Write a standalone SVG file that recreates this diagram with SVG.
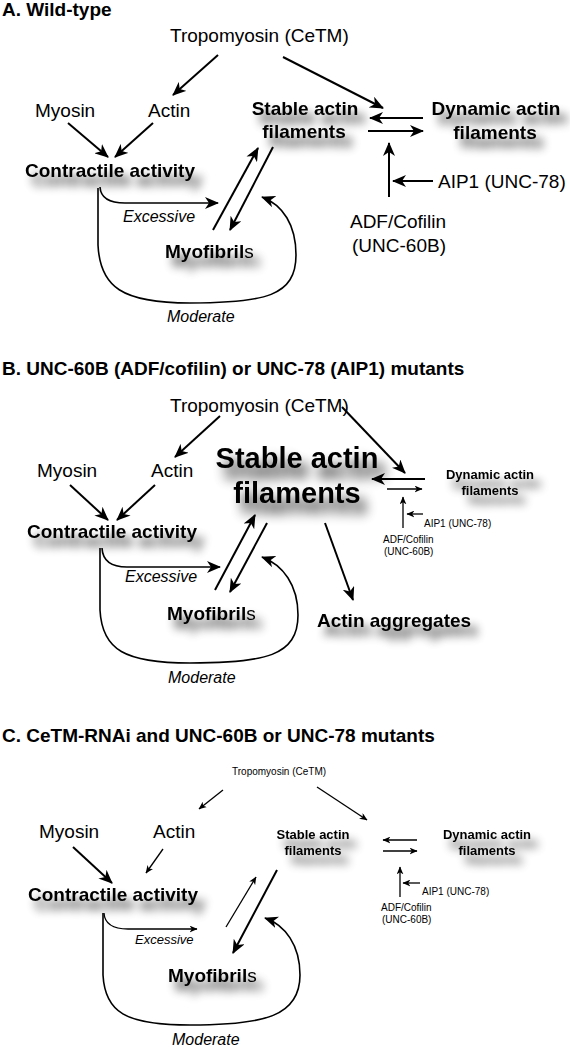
<svg xmlns="http://www.w3.org/2000/svg" width="570" height="1047" viewBox="0 0 570 1047">
<style>
text{font-family:"Liberation Sans",Arial,sans-serif;fill:#000}
.t{font-size:19px;font-weight:bold}
.r{font-size:19px}
.b{font-size:19px;font-weight:bold}
.s{font-size:10px}
.sb{font-size:13px;font-weight:bold}
.i{font-size:16px;font-style:italic}
.m{text-anchor:middle}
.c{fill:none;stroke:#000;stroke-width:2}
.th{fill:none;stroke:#000;stroke-width:1.3}
.lp{fill:none;stroke:#000;stroke-width:1.6}
</style>
<defs>
<filter id="sh" x="-30%" y="-60%" width="170%" height="280%">
<feGaussianBlur in="SourceAlpha" stdDeviation="5"/>
<feOffset dx="7" dy="9"/>
<feComponentTransfer><feFuncA type="linear" slope="0.75"/></feComponentTransfer>
<feMerge><feMergeNode/><feMergeNode in="SourceGraphic"/></feMerge>
</filter>
<filter id="shb" x="-30%" y="-60%" width="170%" height="280%">
<feGaussianBlur in="SourceAlpha" stdDeviation="6"/>
<feOffset dx="7" dy="11"/>
<feComponentTransfer><feFuncA type="linear" slope="0.8"/></feComponentTransfer>
<feMerge><feMergeNode/><feMergeNode in="SourceGraphic"/></feMerge>
</filter>
<marker id="big" viewBox="0 0 14 12" markerWidth="14" markerHeight="12" refX="13" refY="6" orient="auto" markerUnits="userSpaceOnUse"><path d="M0,0 L14,6 L0,12 L4,6 z"/></marker>
<marker id="sm" viewBox="0 0 14 12" markerWidth="8" markerHeight="7" refX="13" refY="6" orient="auto" markerUnits="userSpaceOnUse"><path d="M0,0 L14,6 L0,12 L4,6 z"/></marker>
</defs>
<rect width="570" height="1047" fill="#fff"/>

<!-- Panel A -->
<g id="titleA"><text class="t" x="2" y="16">A. Wild-type</text></g>
<g id="A-tropomyosin"><text class="r" x="170" y="42">Tropomyosin (CeTM)</text></g>
<g id="A-myosin"><text class="r" x="35" y="117">Myosin</text></g>
<g id="A-actin"><text class="r" x="148" y="117">Actin</text></g>
<g id="A-contractile" filter="url(#sh)"><text class="b" x="25" y="177">Contractile activity</text></g>
<g id="A-stable" filter="url(#sh)"><text class="b m" x="305" y="115">Stable actin</text><text class="b m" x="304" y="138">filaments</text></g>
<g id="A-dynamic" filter="url(#sh)"><text class="b m" x="496" y="115">Dynamic actin</text><text class="b m" x="495" y="139">filaments</text></g>
<g id="A-aip1"><text class="r" x="438" y="188">AIP1 (UNC-78)</text></g>
<g id="A-adf"><text class="r m" x="398" y="228">ADF/Cofilin</text><text class="r m" x="399" y="252">(UNC-60B)</text></g>
<g id="A-myofibrils" filter="url(#sh)"><text class="r" x="165" y="258"><tspan font-weight="bold">Myofibril</tspan>s</text></g>
<g id="A-excessive"><text class="i" x="123" y="222">Excessive</text></g>
<g id="A-moderate"><text class="i" x="167" y="322">Moderate</text></g>

<!-- Panel B -->
<g id="titleB"><text class="t" x="2" y="375">B. UNC-60B (ADF/cofilin) or UNC-78 (AIP1) mutants</text></g>
<g id="B-tropomyosin"><text class="r" x="170" y="412">Tropomyosin (CeTM)</text></g>
<g id="B-myosin"><text class="r" x="37" y="477">Myosin</text></g>
<g id="B-actin"><text class="r" x="151" y="477">Actin</text></g>
<g id="B-contractile" filter="url(#sh)"><text class="b" x="27" y="538">Contractile activity</text></g>
<g id="B-stable" filter="url(#shb)"><text class="m" x="297" y="468" font-size="29" font-weight="bold">Stable actin</text><text class="m" x="297" y="503" font-size="29" font-weight="bold">filaments</text></g>
<g id="B-dynamic" filter="url(#sh)"><text class="sb m" x="490" y="479">Dynamic actin</text><text class="sb m" x="490" y="495">filaments</text></g>
<g id="B-aip1"><text class="s" x="424" y="527">AIP1 (UNC-78)</text></g>
<g id="B-adf"><text class="s" x="383" y="543">ADF/Cofilin</text><text class="s" x="384" y="555">(UNC-60B)</text></g>
<g id="B-myofibrils" filter="url(#sh)"><text class="r" x="167" y="620"><tspan font-weight="bold">Myofibril</tspan>s</text></g>
<g id="B-aggregates" filter="url(#sh)"><text class="b" x="317" y="627">Actin aggregates</text></g>
<g id="B-excessive"><text class="i" x="125" y="582">Excessive</text></g>
<g id="B-moderate"><text class="i" x="168" y="683">Moderate</text></g>

<!-- Panel C -->
<g id="titleC"><text class="t" x="2" y="742">C. CeTM-RNAi and UNC-60B or UNC-78 mutants</text></g>
<g id="C-tropomyosin"><text class="s" x="232" y="775">Tropomyosin (CeTM)</text></g>
<g id="C-myosin"><text class="r" x="39" y="838">Myosin</text></g>
<g id="C-actin"><text class="r" x="153" y="838">Actin</text></g>
<g id="C-contractile" filter="url(#sh)"><text class="b" x="28" y="901">Contractile activity</text></g>
<g id="C-stable" filter="url(#sh)"><text class="sb m" x="313" y="839">Stable actin</text><text class="sb m" x="313" y="855">filaments</text></g>
<g id="C-dynamic" filter="url(#sh)"><text class="sb m" x="487" y="839">Dynamic actin</text><text class="sb m" x="487" y="855">filaments</text></g>
<g id="C-aip1"><text class="s" x="422" y="895">AIP1 (UNC-78)</text></g>
<g id="C-adf"><text class="s" x="381" y="911">ADF/Cofilin</text><text class="s" x="382" y="923">(UNC-60B)</text></g>
<g id="C-myofibrils" filter="url(#sh)"><text class="r" x="168" y="982"><tspan font-weight="bold">Myofibril</tspan>s</text></g>
<g id="C-excessive"><text x="135" y="944" font-size="13" font-style="italic">Excessive</text></g>
<g id="C-moderate"><text class="i" x="172" y="1045">Moderate</text></g>

<g id="connectors">
<!-- A -->
<path class="c" d="M218,55 L173,95" marker-end="url(#big)"/>
<path class="c" d="M283,57 L383,108" marker-end="url(#big)"/>
<path class="c" d="M68,123 L108,157" marker-end="url(#big)"/>
<path class="c" d="M153,123 L115,157" marker-end="url(#big)"/>
<path class="c" d="M423,118 L370,118" marker-end="url(#big)"/>
<path class="c" d="M368,131 L423,131" marker-end="url(#big)"/>
<path class="c" d="M389,197 L389,143" marker-end="url(#big)"/>
<path class="c" d="M433,181 L393,181" marker-end="url(#big)"/>
<path class="c" d="M213,230 L258,148" marker-end="url(#big)"/>
<path class="c" d="M273,147 L230,230" marker-end="url(#big)"/>
<path class="lp" d="M100,187 Q101,203 125,203 L218,203" marker-end="url(#big)"/>
<path class="lp" d="M98,188 L98,245 C100,287 122,303 190,303 C265,303 296,296 296,255 C296,225 283,205 262,197" marker-end="url(#big)"/>
<!-- B -->
<path class="c" d="M220,416 L175,457" marker-end="url(#big)"/>
<path class="c" d="M342,407 L405,473" marker-end="url(#big)"/>
<path class="c" d="M70,485 L108,520" marker-end="url(#big)"/>
<path class="c" d="M155,485 L117,520" marker-end="url(#big)"/>
<path class="c" d="M425,479 L372,479" marker-end="url(#big)"/>
<path class="th" d="M387,489 L422,489" marker-end="url(#sm)"/>
<path class="th" d="M403,528 L403,497" marker-end="url(#sm)"/>
<path class="th" d="M423,514 L407,514" marker-end="url(#sm)"/>
<path class="c" d="M215,590 L255,515" marker-end="url(#big)"/>
<path class="c" d="M267,523 L230,592" marker-end="url(#big)"/>
<path class="c" d="M325,523 L353,600" marker-end="url(#big)"/>
<path class="lp" d="M102,548 Q103,567 127,567 L220,567" marker-end="url(#big)"/>
<path class="lp" d="M100,548 L100,610 C102,650 125,663 190,663 C265,663 298,656 298,615 C298,585 283,565 262,557" marker-end="url(#big)"/>
<!-- C -->
<path class="th" d="M223,790 L199,809" marker-end="url(#sm)"/>
<path class="th" d="M317,787 L367,820" marker-end="url(#sm)"/>
<path class="c" d="M73,847 L112,883" stroke-width="2.5" marker-end="url(#big)"/>
<path class="th" d="M163,849 L146,873" marker-end="url(#sm)"/>
<path class="th" d="M417,840 L383,840" marker-end="url(#sm)"/>
<path class="th" d="M383,851 L417,851" marker-end="url(#sm)"/>
<path class="th" d="M400,897 L400,867" marker-end="url(#sm)"/>
<path class="th" d="M420,883 L403,883" marker-end="url(#sm)"/>
<path class="th" d="M226,927 L256,877" marker-end="url(#sm)"/>
<path class="c" d="M277,870 L233,953" marker-end="url(#big)"/>
<path class="th" d="M104,913 Q105,929 128,929 L197,929" marker-end="url(#sm)"/>
<path class="lp" d="M103,913 L103,975 C105,1012 125,1025 190,1025 C265,1025 300,1016 300,975 C300,945 285,925 265,918" marker-end="url(#big)"/>
</g>
</svg>
